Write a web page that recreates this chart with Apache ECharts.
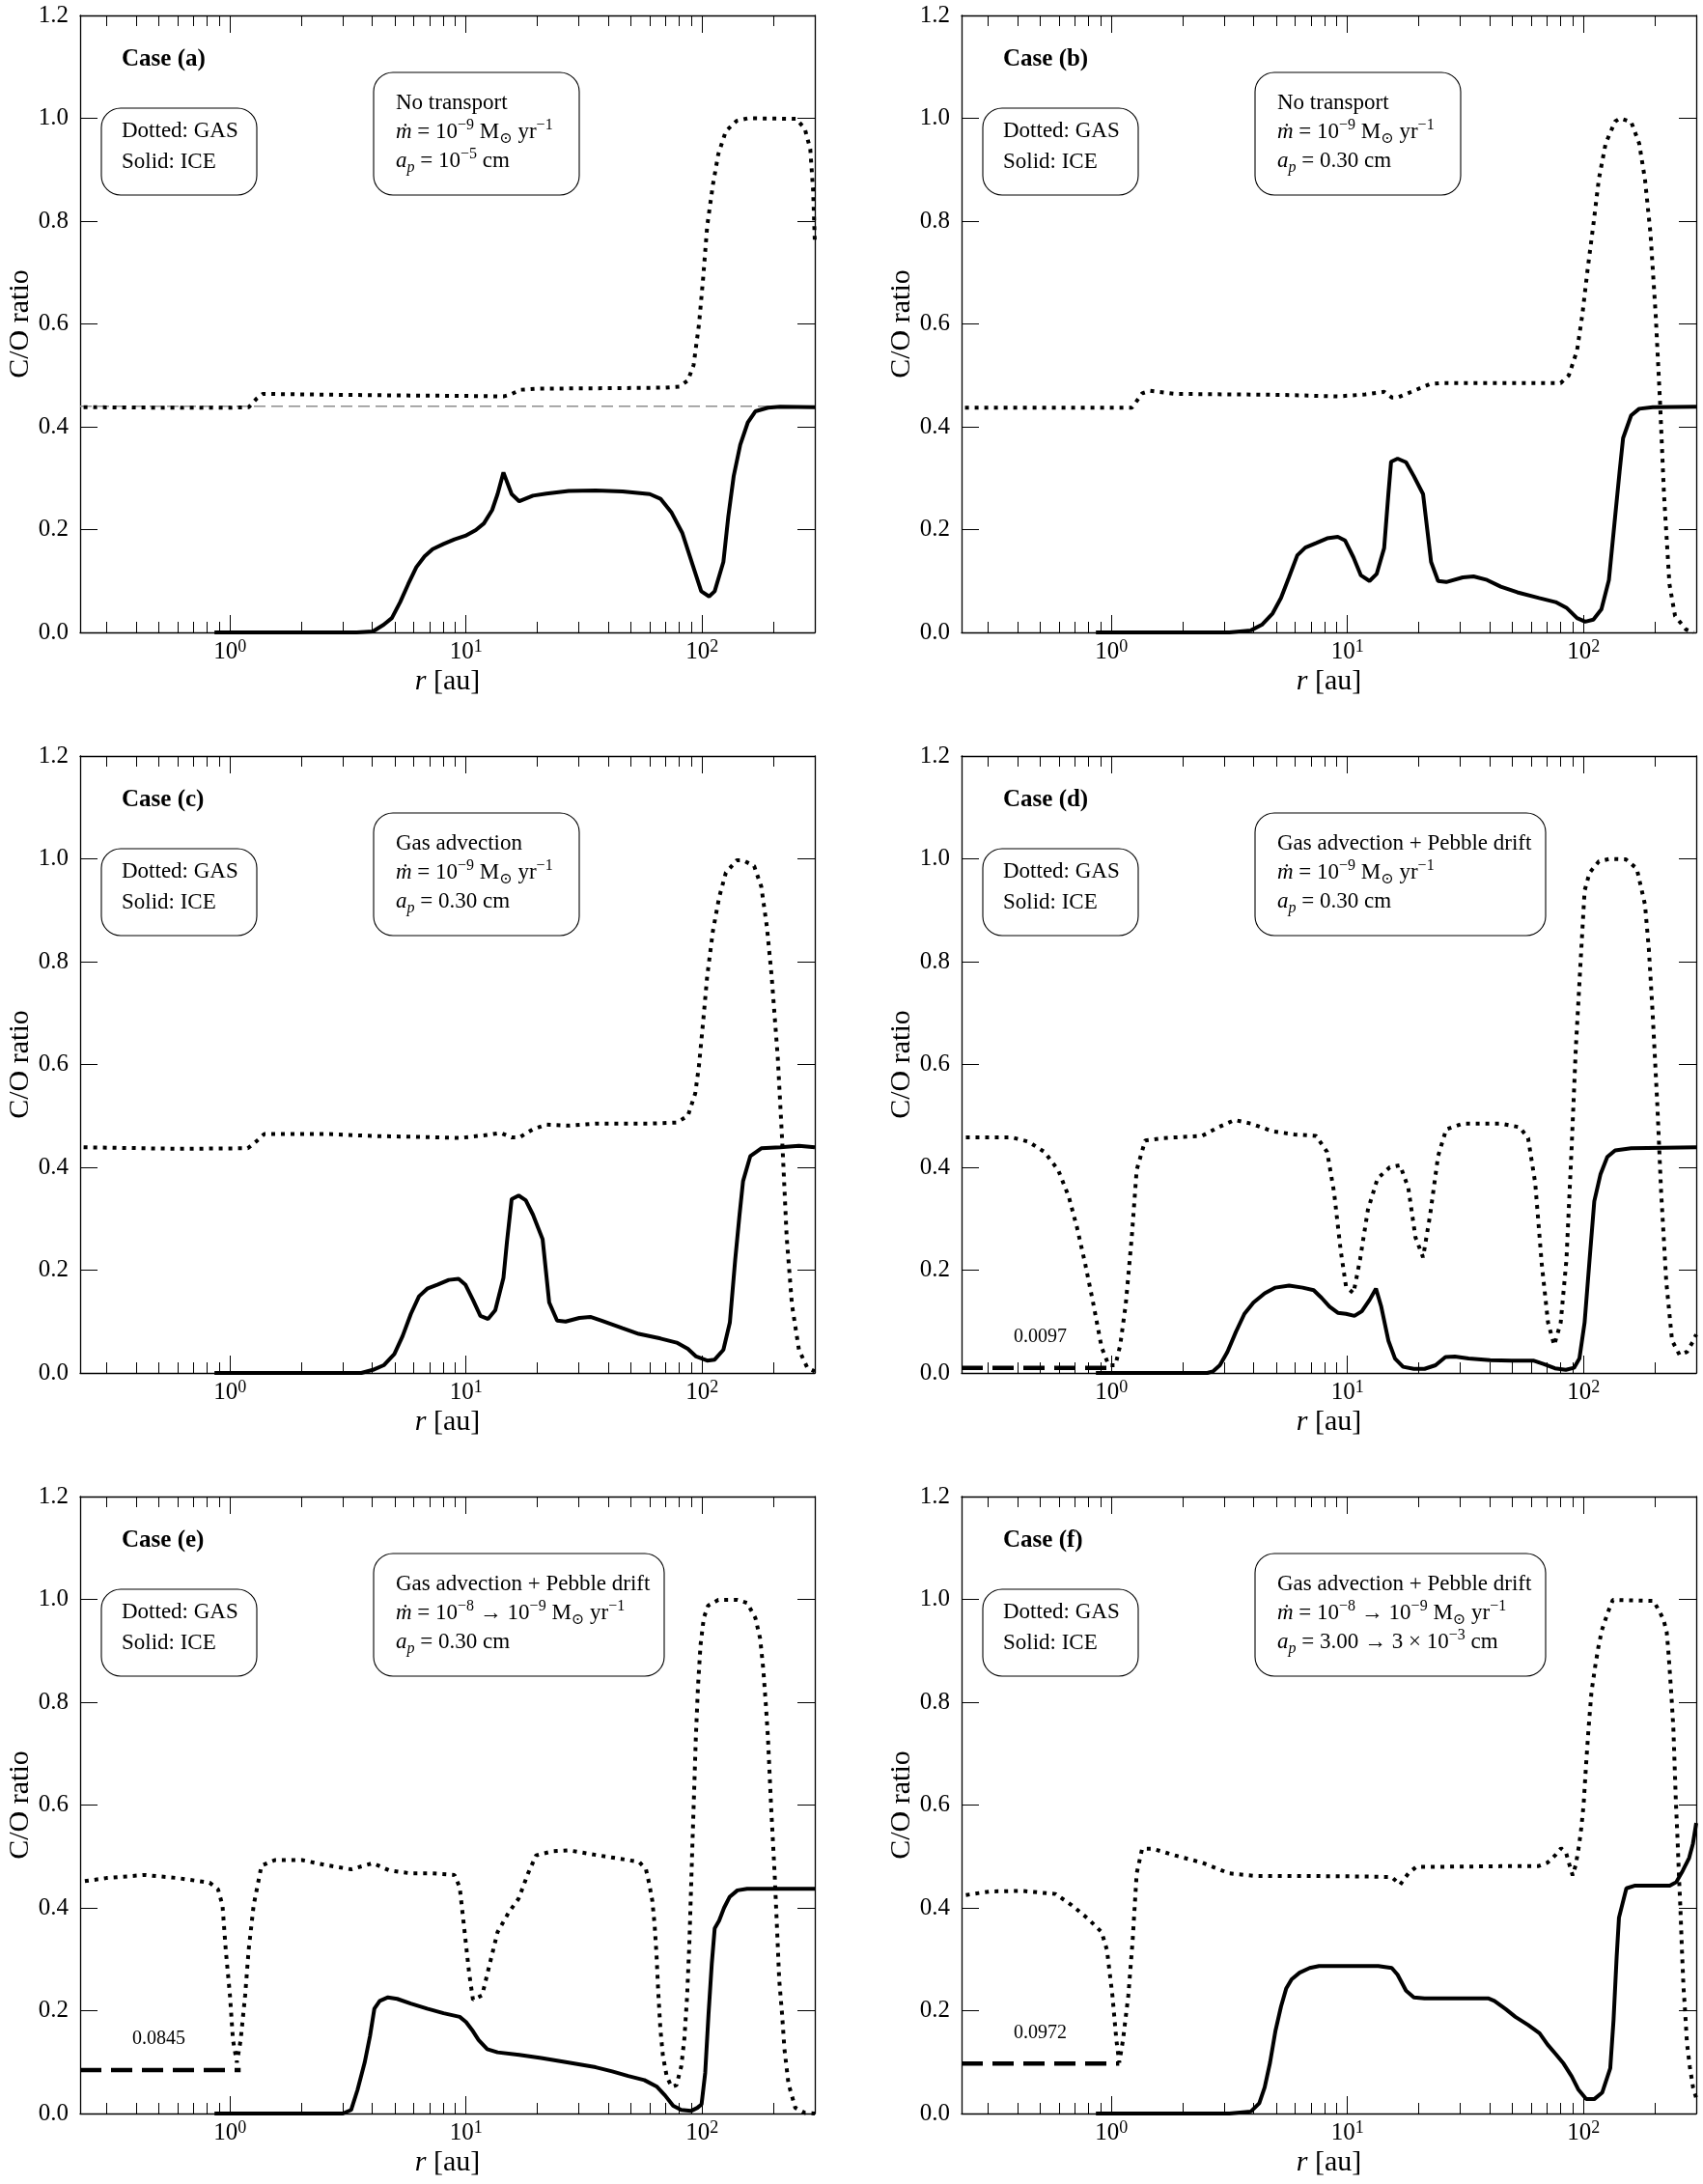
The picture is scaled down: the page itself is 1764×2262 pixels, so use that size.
<!DOCTYPE html>
<html>
<head>
<meta charset="utf-8">
<title>C/O ratio</title>
<script src="https://cdn.jsdelivr.net/npm/echarts@6/dist/echarts.min.js"></script>
<style>
html,body{margin:0;padding:0;background:#fff;}
#main{width:1764px;height:2262px;}
</style>
</head>
<body>
<div id="main"></div>
<script>
// r [au] range of every panel and the y ticks
var xRange = [0.232, 300];
var yRange = [0, 1.2];
var yStep = 0.2;

// case (a)
var gasA = [[0.24,0.438],[0.6,0.437],[1.0,0.437],[1.2,0.438],[1.3,0.455],[1.38,0.464],[2,0.463],[5,0.461],[10,0.460],[14.4,0.459],[15.5,0.463],[17,0.472],[20,0.474],[40,0.475],[70,0.476],[80,0.478],[87,0.49],[92,0.52],[97,0.60],[101,0.69],[105,0.79],[111,0.87],[117,0.93],[126,0.975],[140,0.995],[156,1.0],[250,0.999],[272,0.98],[287,0.94],[295,0.86],[300,0.76]];
var iceA = [[0.86,0],[3.44,0],[4.03,0.002],[4.48,0.015],[4.85,0.028],[5.26,0.059],[5.69,0.094],[6.16,0.127],[6.67,0.148],[7.22,0.162],[8.03,0.172],[8.93,0.181],[9.93,0.188],[11.0,0.199],[11.9,0.212],[12.9,0.238],[13.6,0.269],[14.4,0.311],[15.6,0.269],[16.8,0.255],[19.2,0.266],[21.9,0.270],[27.2,0.275],[35.4,0.276],[46,0.274],[60,0.269],[66.6,0.26],[74,0.234],[82.3,0.194],[91.5,0.129],[99.1,0.08],[107,0.07],[113,0.08],[123,0.137],[129,0.225],[136,0.304],[145,0.365],[156,0.408],[168,0.43],[190,0.437],[214,0.439],[300,0.438]];
var initA = [[0.232,0.44],[300,0.44]];

// case (b)
var gasB = [[0.24,0.437],[1.22,0.437],[1.28,0.45],[1.35,0.465],[1.46,0.47],[1.86,0.464],[3.16,0.463],[5.36,0.462],[9.1,0.459],[11.9,0.463],[14.3,0.468],[15.4,0.457],[16.3,0.457],[19.1,0.47],[22.4,0.483],[24.9,0.485],[44.6,0.485],[80,0.485],[86.6,0.5],[93.8,0.548],[98.8,0.618],[104,0.706],[110,0.793],[116,0.881],[124,0.951],[136,0.994],[143,1.0],[159,0.993],[172,0.951],[182,0.881],[192,0.776],[202,0.618],[211,0.443],[219,0.269],[231,0.094],[244,0.032],[271,0.006],[293,0.0]];
var iceB = [[0.86,0],[3.16,0],[3.9,0.004],[4.34,0.015],[4.82,0.037],[5.23,0.067],[5.65,0.107],[6.13,0.15],[6.63,0.165],[7.38,0.174],[8.2,0.183],[9.1,0.186],[9.76,0.179],[10.6,0.146],[11.4,0.111],[12.4,0.1],[13.3,0.114],[14.3,0.164],[14.9,0.269],[15.3,0.332],[16.3,0.338],[17.7,0.331],[19.1,0.304],[20.9,0.269],[22.6,0.137],[24.2,0.1],[26.2,0.098],[30.8,0.107],[34.2,0.109],[39,0.102],[44.6,0.089],[52.4,0.078],[64.8,0.067],[76.1,0.059],[84.6,0.048],[93.8,0.028],[101.6,0.021],[110,0.025],[119,0.045],[128,0.102],[136,0.225],[142,0.312],[147,0.378],[159,0.422],[172,0.435],[196,0.438],[300,0.439]];

// case (c)
var gasC = [[0.24,0.439],[0.6,0.436],[1.19,0.437],[1.29,0.45],[1.4,0.465],[2.5,0.465],[4,0.461],[6.5,0.459],[9.4,0.457],[12.3,0.463],[14,0.467],[15.6,0.458],[16.8,0.458],[19.2,0.474],[21.9,0.483],[27.2,0.481],[35.4,0.485],[60,0.485],[78,0.487],[87,0.5],[93.5,0.544],[96.9,0.597],[101,0.684],[105,0.771],[111,0.859],[118,0.925],[126,0.973],[140,0.997],[149,0.997],[166,0.986],[178,0.946],[188,0.868],[197,0.771],[209,0.614],[219,0.439],[228,0.264],[240,0.133],[257,0.045],[279,0.01],[300,0.003]];
var iceC = [[0.86,0],[3.6,0],[4.03,0.006],[4.48,0.015],[4.97,0.037],[5.39,0.072],[5.84,0.115],[6.32,0.149],[6.85,0.164],[7.6,0.172],[8.45,0.181],[9.3,0.183],[9.93,0.172],[10.7,0.142],[11.5,0.111],[12.4,0.105],[13.3,0.122],[14.4,0.185],[14.9,0.255],[15.6,0.338],[16.7,0.345],[17.9,0.336],[19.2,0.308],[21.1,0.26],[22.5,0.137],[24.3,0.102],[26.4,0.1],[30.2,0.107],[33.6,0.109],[37.3,0.102],[46,0.087],[53.9,0.076],[66.6,0.067],[78,0.059],[87,0.047],[94.3,0.032],[105,0.024],[113,0.026],[123,0.045],[131,0.098],[138,0.22],[144,0.308],[149,0.373],[160,0.422],[178,0.437],[214,0.439],[257,0.442],[300,0.439]];

// case (d)
var gasD = [[0.242,0.458],[0.38,0.458],[0.445,0.45],[0.52,0.43],[0.595,0.395],[0.66,0.343],[0.716,0.282],[0.775,0.212],[0.84,0.133],[0.909,0.05],[0.974,0.015],[1.04,0.015],[1.09,0.054],[1.15,0.133],[1.22,0.264],[1.28,0.395],[1.39,0.452],[1.67,0.457],[2.42,0.461],[2.84,0.478],[3.33,0.492],[3.9,0.485],[4.82,0.47],[5.96,0.464],[7.37,0.461],[8.2,0.43],[8.77,0.352],[9.36,0.238],[9.86,0.168],[10.6,0.155],[11.3,0.22],[12.2,0.317],[13.4,0.378],[15.1,0.4],[16.7,0.404],[18.1,0.36],[19.4,0.264],[20.9,0.225],[22.4,0.308],[24.2,0.422],[26.2,0.474],[30.8,0.485],[44.6,0.485],[53.6,0.478],[58.2,0.457],[62.4,0.369],[66.5,0.212],[70.7,0.098],[75.1,0.054],[80,0.098],[84.6,0.22],[89,0.439],[92.7,0.632],[97.3,0.806],[101,0.938],[106,0.973],[116,0.995],[129,1.0],[151,0.999],[168,0.981],[182,0.911],[189,0.824],[196,0.701],[205,0.527],[213,0.352],[224,0.177],[237,0.063],[255,0.035],[274,0.041],[292,0.063],[300,0.075]];
var iceD = [[0.86,0],[2.55,0],[2.69,0.003],[2.88,0.015],[3.1,0.041],[3.37,0.08],[3.66,0.115],[4.0,0.137],[4.46,0.155],[4.95,0.166],[5.66,0.17],[6.46,0.166],[7.19,0.161],[7.77,0.146],[8.4,0.129],[9.1,0.117],[9.86,0.115],[10.7,0.111],[11.5,0.12],[12.4,0.142],[13.2,0.164],[13.9,0.129],[14.9,0.063],[15.9,0.028],[17.2,0.012],[19.1,0.008],[21.2,0.008],[23.6,0.015],[26,0.031],[28.5,0.032],[32.6,0.028],[40.2,0.025],[49.6,0.024],[61.2,0.024],[68,0.017],[75.6,0.009],[84.1,0.006],[91.1,0.01],[96,0.028],[101,0.098],[106,0.22],[111,0.334],[118,0.387],[126,0.42],[136,0.433],[159,0.437],[300,0.439]];
var levelD = [[0.232,0.0097],[0.97,0.0097]];

// case (e)
var gasE = [[0.243,0.452],[0.3,0.458],[0.435,0.464],[0.6,0.458],[0.82,0.449],[0.89,0.436],[0.93,0.405],[0.96,0.318],[1.0,0.23],[1.03,0.143],[1.07,0.099],[1.11,0.143],[1.16,0.23],[1.2,0.318],[1.26,0.405],[1.36,0.482],[1.55,0.493],[2.02,0.493],[2.5,0.484],[3.26,0.475],[4.03,0.487],[4.72,0.473],[5.83,0.467],[7.22,0.467],[8.93,0.464],[9.4,0.44],[9.82,0.361],[10.3,0.274],[10.7,0.221],[11.7,0.23],[12.6,0.291],[13.6,0.353],[15.2,0.392],[16.7,0.418],[18.3,0.467],[19.8,0.502],[23.2,0.51],[27.2,0.512],[35.4,0.503],[48.6,0.493],[54.2,0.489],[57.8,0.475],[59.6,0.448],[61.5,0.414],[62.9,0.367],[64.1,0.307],[65.1,0.24],[66.5,0.166],[68.2,0.112],[70.8,0.072],[74.2,0.052],[77.8,0.055],[81.6,0.092],[84.1,0.146],[86.3,0.226],[88.2,0.327],[89.6,0.428],[91,0.528],[92.5,0.629],[94,0.73],[96,0.83],[98.4,0.911],[101.6,0.964],[106,0.988],[117,0.999],[141,0.999],[155,0.993],[168,0.964],[176,0.924],[181.5,0.864],[186,0.797],[190,0.73],[193,0.662],[196,0.595],[199.5,0.528],[203,0.461],[206,0.394],[209,0.327],[212,0.26],[218,0.193],[223,0.126],[232,0.058],[248,0.011],[273,0.001],[300,0.0]];
var iceE = [[0.86,0],[3.01,0],[3.26,0.007],[3.47,0.046],[3.72,0.099],[3.92,0.151],[4.09,0.204],[4.31,0.219],[4.67,0.226],[5.11,0.223],[5.83,0.214],[6.84,0.204],[8.03,0.195],[9.4,0.188],[10,0.178],[10.7,0.16],[11.3,0.143],[12.3,0.125],[13.6,0.119],[16.8,0.114],[20.8,0.108],[27.2,0.099],[35.4,0.09],[41.6,0.082],[48.6,0.073],[56.9,0.065],[64.4,0.052],[69.7,0.035],[75.4,0.015],[81.5,0.007],[89.6,0.005],[95.4,0.011],[99.4,0.018],[103,0.079],[106.4,0.193],[109.9,0.293],[113,0.36],[118,0.375],[123.8,0.4],[130.6,0.421],[141,0.434],[155,0.437],[300,0.437]];
var levelE = [[0.232,0.0845],[1.11,0.0845]];

// case (f)
var gasF = [[0.242,0.425],[0.307,0.432],[0.42,0.433],[0.58,0.427],[0.68,0.405],[0.796,0.379],[0.909,0.353],[0.958,0.318],[1.01,0.23],[1.05,0.143],[1.08,0.099],[1.12,0.143],[1.18,0.23],[1.23,0.335],[1.28,0.467],[1.35,0.515],[1.5,0.515],[1.86,0.502],[2.42,0.488],[3.16,0.467],[4.11,0.462],[7.01,0.462],[11.9,0.461],[15.4,0.46],[16.7,0.445],[18.1,0.467],[19.6,0.48],[26.2,0.48],[44.6,0.481],[64.1,0.481],[70.4,0.488],[76.1,0.503],[80.3,0.516],[84.4,0.506],[87.1,0.484],[89.9,0.463],[92.7,0.484],[95.7,0.522],[97.8,0.556],[100,0.6],[102.5,0.68],[105,0.75],[108,0.82],[112,0.87],[115.5,0.907],[119.5,0.94],[127,0.976],[133,0.999],[198,0.997],[208,0.979],[218,0.961],[225,0.936],[228.5,0.9],[232,0.857],[236,0.806],[240,0.749],[243,0.677],[246,0.605],[250,0.533],[253.5,0.461],[257,0.4],[261,0.317],[265,0.245],[269,0.2],[274,0.137],[282,0.09],[291,0.05],[300,0.03]];
var iceF = [[0.86,0],[3.16,0],[3.9,0.004],[4.23,0.02],[4.46,0.051],[4.7,0.099],[4.95,0.16],[5.23,0.208],[5.5,0.243],[5.8,0.261],[6.27,0.274],[6.92,0.283],[7.58,0.287],[13.5,0.287],[15.4,0.283],[16.3,0.27],[17.7,0.239],[19.1,0.226],[21.2,0.224],[39.4,0.224],[41.9,0.219],[46.8,0.203],[51.4,0.188],[58.3,0.172],[65.1,0.156],[70.4,0.134],[76.1,0.116],[82.3,0.097],[89.1,0.072],[94.9,0.047],[102.6,0.028],[110.9,0.028],[120,0.041],[129.7,0.088],[133.9,0.181],[138.1,0.306],[141.2,0.381],[151.8,0.438],[164.2,0.443],[231.7,0.443],[246.8,0.45],[262.8,0.472],[279.9,0.497],[290.5,0.525],[297.9,0.556],[300,0.565]];
var levelF = [[0.232,0.0972],[1.08,0.0972]];

// panel texts
var caseNames = ['Case (a)','Case (b)','Case (c)','Case (d)','Case (e)','Case (f)'];
var transport = ['No transport','No transport','Gas advection','Gas advection + Pebble drift','Gas advection + Pebble drift','Gas advection + Pebble drift'];
var mdotText = [
  '{i|ṁ} = 10{sup|−9} M{sub|⊙} yr{sup|−1}',
  '{i|ṁ} = 10{sup|−9} M{sub|⊙} yr{sup|−1}',
  '{i|ṁ} = 10{sup|−9} M{sub|⊙} yr{sup|−1}',
  '{i|ṁ} = 10{sup|−9} M{sub|⊙} yr{sup|−1}',
  '{i|ṁ} = 10{sup|−8} → 10{sup|−9} M{sub|⊙} yr{sup|−1}',
  '{i|ṁ} = 10{sup|−8} → 10{sup|−9} M{sub|⊙} yr{sup|−1}'
];
var apText = [
  '{i|a}{subi|p} = 10{sup|−5} cm',
  '{i|a}{subi|p} = 0.30 cm',
  '{i|a}{subi|p} = 0.30 cm',
  '{i|a}{subi|p} = 0.30 cm',
  '{i|a}{subi|p} = 0.30 cm',
  '{i|a}{subi|p} = 3.00 → 3 × 10{sup|−3} cm'
];

var panels = [
  {gas: gasA, ice: iceA, init: initA, level: null, wide: false},
  {gas: gasB, ice: iceB, init: null, level: null, wide: false},
  {gas: gasC, ice: iceC, init: null, level: null, wide: false},
  {gas: gasD, ice: iceD, init: null, level: levelD, wide: true},
  {gas: gasE, ice: iceE, init: null, level: levelE, wide: true},
  {gas: gasF, ice: iceF, init: null, level: levelF, wide: true}
];

var SERIF = '"Liberation Serif", "DejaVu Serif", serif';
var gridW = 761, gridH = 639;
var colLeft = [83, 996];
var rowTop = [16, 783, 1550];

function powLabel(v) {
  var e = Math.log(v) / Math.LN10;
  if (Math.abs(e - Math.round(e)) > 1e-6) return '';
  return '{b|10}{s|' + Math.round(e) + '}';
}

var boxRich = {
  i: {fontStyle: 'italic', fontSize: 23, fontFamily: SERIF, lineHeight: 30, fill: '#000'},
  sup: {fontSize: 16, fontFamily: SERIF, verticalAlign: 'top', lineHeight: 17, fill: '#000'},
  sub: {fontSize: 16, fontFamily: SERIF, verticalAlign: 'bottom', lineHeight: 20, fill: '#000'},
  subi: {fontSize: 16, fontStyle: 'italic', fontFamily: SERIF, verticalAlign: 'bottom', lineHeight: 20, fill: '#000'}
};

var grids = [], xAxes = [], yAxes = [], series = [], graphics = [];

panels.forEach(function (p, k) {
  var gl = colLeft[k % 2], gt = rowTop[Math.floor(k / 2)];
  grids.push({left: gl, top: gt, width: gridW, height: gridH});

  var tick = {show: true, inside: true, length: 18, lineStyle: {color: '#000', width: 1}};
  var minor = {show: true, splitNumber: 9, length: 11, lineStyle: {color: '#000', width: 1}};
  var line = {show: true, onZero: false, lineStyle: {color: '#000', width: 1.3}};

  // bottom + top log axes
  xAxes.push({
    type: 'log', gridIndex: k, min: xRange[0], max: xRange[1], position: 'bottom',
    axisLine: line, axisTick: tick, minorTick: minor, splitLine: {show: false},
    axisLabel: {
      formatter: powLabel, margin: 6, showMinLabel: false, showMaxLabel: false,
      rich: {
        b: {fontSize: 25, fontFamily: SERIF, color: '#000', lineHeight: 28},
        s: {fontSize: 18, fontFamily: SERIF, color: '#000', verticalAlign: 'top', lineHeight: 18}
      }
    },
    name: '{i|r} [au]', nameLocation: 'middle', nameGap: 36,
    nameTextStyle: {
      fontSize: 30, fontFamily: SERIF, color: '#000',
      rich: {i: {fontSize: 30, fontFamily: SERIF, fontStyle: 'italic', color: '#000'}}
    }
  });
  xAxes.push({
    type: 'log', gridIndex: k, min: xRange[0], max: xRange[1], position: 'top',
    axisLine: line, axisTick: tick, minorTick: minor, splitLine: {show: false},
    axisLabel: {show: false}
  });

  // left + right value axes
  yAxes.push({
    type: 'value', gridIndex: k, min: yRange[0], max: yRange[1], interval: yStep, position: 'left',
    axisLine: line, axisTick: tick, splitLine: {show: false},
    axisLabel: {fontSize: 25, fontFamily: SERIF, color: '#000', margin: 12,
      formatter: function (v) { return v.toFixed(1); }},
    name: 'C/O ratio', nameLocation: 'middle', nameGap: 47,
    nameTextStyle: {fontSize: 30, fontFamily: SERIF, color: '#000'}
  });
  yAxes.push({
    type: 'value', gridIndex: k, min: yRange[0], max: yRange[1], interval: yStep, position: 'right',
    axisLine: line, axisTick: tick, splitLine: {show: false}, axisLabel: {show: false}
  });

  var xi = 2 * k, yi = 2 * k;

  if (p.init) {
    series.push({
      type: 'line', xAxisIndex: xi, yAxisIndex: yi, data: p.init, symbol: 'none', silent: true,
      lineStyle: {color: '#8c8c8c', width: 1.6, type: [12, 6]}
    });
  }
  series.push({
    type: 'line', xAxisIndex: xi, yAxisIndex: yi, data: p.ice, symbol: 'none', silent: true,
    lineStyle: {color: '#000', width: 4}
  });
  series.push({
    type: 'line', xAxisIndex: xi, yAxisIndex: yi, data: p.gas, symbol: 'none', silent: true,
    lineStyle: {color: '#000', width: 4, type: [4, 6], cap: 'butt'}
  });
  if (p.level) {
    var lev = p.level[0][1];
    series.push({
      type: 'line', xAxisIndex: xi, yAxisIndex: yi, data: p.level, symbol: 'none', silent: true,
      lineStyle: {color: '#000', width: 4.5, type: [22, 10], cap: 'butt'},
      markPoint: {
        symbol: 'circle', symbolSize: 0, silent: true,
        data: [{coord: [0.5, lev + 0.06], value: lev.toFixed(4)}],
        label: {show: true, position: 'inside', formatter: '{c}', fontSize: 20, fontFamily: SERIF, color: '#000'}
      }
    });
  }

  // annotation boxes
  var box2W = p.wide ? 301 : 213;
  graphics.push({
    type: 'rect', z: 50, shape: {x: gl + 22, y: gt + 96, width: 161, height: 90, r: 20},
    style: {fill: '#fff', stroke: '#000', lineWidth: 1.1}
  });
  graphics.push({
    type: 'rect', z: 50, shape: {x: gl + 304, y: gt + 59, width: box2W, height: 127, r: 20},
    style: {fill: '#fff', stroke: '#000', lineWidth: 1.1}
  });
  graphics.push({
    type: 'text', z: 51, x: gl + 43, y: gt + 46,
    style: {text: caseNames[k], fontSize: 25, fontWeight: 'bold', fontFamily: SERIF, fill: '#000', verticalAlign: 'middle'}
  });
  graphics.push({
    type: 'text', z: 51, x: gl + 43, y: gt + 104,
    style: {text: 'Dotted: GAS\nSolid: ICE', fontSize: 23, fontFamily: SERIF, fill: '#000', lineHeight: 32, verticalAlign: 'top'}
  });
  graphics.push({
    type: 'text', z: 51, x: gl + 327, y: gt + 76,
    style: {
      text: transport[k] + '\n' + mdotText[k] + '\n' + apText[k],
      fontSize: 23, fontFamily: SERIF, fill: '#000', lineHeight: 30, verticalAlign: 'top',
      rich: boxRich
    }
  });
});

var chart = echarts.init(document.getElementById('main'));
chart.setOption({
  animation: false,
  backgroundColor: '#fff',
  grid: grids,
  xAxis: xAxes,
  yAxis: yAxes,
  series: series,
  graphic: graphics
});
</script>
</body>
</html>
